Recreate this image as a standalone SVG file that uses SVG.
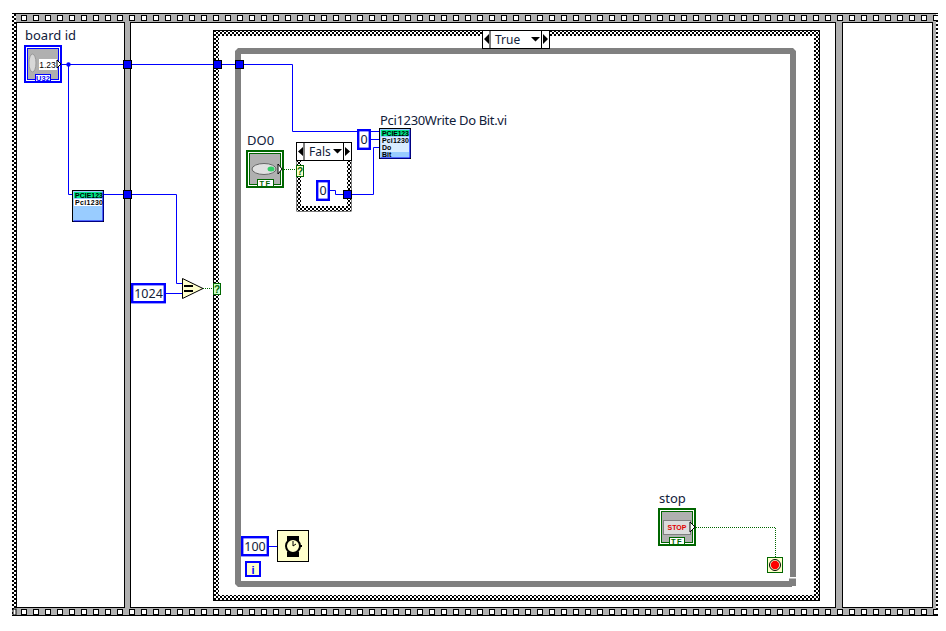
<svg xmlns="http://www.w3.org/2000/svg" width="946" height="631" viewBox="0 0 946 631">
<style>
text{font-family:"Noto Sans","Liberation Sans",sans-serif;fill:#10203a}
.lbl{font-size:13px}
.sel{font-size:12px}
.num{font-size:12.500px;text-anchor:middle}
.wire{fill:none;stroke:#0000ff;stroke-width:1}
.bool{fill:none;stroke:#006600;stroke-width:1;stroke-dasharray:1 1}
.tun{fill:#0000ff;stroke:#000;stroke-width:1}
.const{fill:#fff;stroke:#0000ff;stroke-width:2.400}
.grey{fill:#b0b0b0}
.loop{fill:#808080}
.hole{fill:#fff;stroke:#000;stroke-width:1}
.k{fill:#000}
.vit{font-family:"Liberation Sans",sans-serif;font-size:7px;font-weight:bold;fill:#000}
.tag{font-family:"Liberation Sans",sans-serif;font-size:7.500px;font-weight:bold;text-anchor:middle}
.q{font-family:"Liberation Sans",sans-serif;font-size:10px;font-weight:bold;text-anchor:middle;fill:#006600}
</style>
<defs>
<pattern id="chk" width="4" height="4" patternUnits="userSpaceOnUse">
<rect width="4" height="4" fill="#fff"/><rect width="2" height="2" fill="#000"/><rect x="2" y="2" width="2" height="2" fill="#000"/>
</pattern>
<pattern id="holesT" x="18" y="0" width="12" height="631" patternUnits="userSpaceOnUse">
<rect x="3.500" y="15.500" width="5" height="5" class="hole"/>
</pattern>
<pattern id="holesB" x="18" y="0" width="12" height="631" patternUnits="userSpaceOnUse">
<rect x="3.500" y="609.500" width="5" height="5" class="hole"/>
</pattern>
</defs>
<rect width="946" height="631" fill="#fff"/>

<g id="sequence-frame">
<rect x="12" y="13" width="926" height="603" fill="#000"/>
<rect x="13" y="14" width="925" height="601" class="grey"/>
<rect x="12" y="14" width="4" height="601" fill="url(#chk)"/>
<rect x="936" y="14" width="2" height="601" fill="url(#chk)"/>
<rect x="18" y="14" width="920" height="8" fill="url(#holesT)"/>
<rect x="18" y="608" width="920" height="8" fill="url(#holesB)"/>
<rect x="13" y="609" width="3" height="6" fill="#fff" stroke="#000"/>
<rect x="16.500" y="22.500" width="108" height="585" fill="#fff" stroke="#000"/>
<rect x="130.500" y="22.500" width="705" height="585" fill="#fff" stroke="#000"/>
<rect x="842.500" y="22.500" width="90" height="585" fill="#fff" stroke="#000"/>
</g>

<g id="case-frame">
<rect x="213" y="30" width="607" height="571" fill="#000"/>
<rect x="214" y="31" width="605" height="569" fill="url(#chk)"/>
<rect x="219" y="36" width="595" height="559" fill="#fff"/>
</g>

<g id="while-loop">
<path class="loop" d="M235 51L238 48H793L796 51V577H790V54H241V581H789V578.500H796V586H792V587H238L235 584Z"/>
</g>

<g id="inner-case">
<rect x="296.500" y="142.500" width="55" height="69" fill="#000"/>
<rect x="297" y="160" width="54" height="51" fill="url(#chk)"/>
<rect x="301" y="160" width="46" height="46" fill="#fff"/>
</g>

<g id="connectors">
<path class="wire" d="M62 64.500H292.500V131.500H380"/>
<path class="wire" d="M68.500 64.500V194.500H72"/>
<path class="wire" d="M104 194.500H176.500V283.500H182"/>
<path class="wire" d="M166 293.500H182"/>
<path class="wire" d="M371 139.500H380"/>
<path class="wire" d="M380 147.500H373.500V194.500H348"/>
<path class="wire" d="M330 190.500H335.500V194.500H344"/>
<path class="wire" d="M269 546.500H277"/>
<path class="bool" d="M203 288.500H213"/>
<path class="bool" d="M280 169.500H296"/>
<path class="bool" d="M696 527.500H775.500V557"/>
<circle cx="68.500" cy="64.500" r="2.200" fill="#0000ff"/>
</g>

<g id="tunnels">
<rect class="tun" x="123.500" y="60.500" width="8" height="8"/>
<rect class="tun" x="213.500" y="60.500" width="8" height="8"/>
<rect class="tun" x="235.500" y="60.500" width="8" height="8"/>
<rect class="tun" x="123.500" y="190.500" width="8" height="8"/>
<rect class="tun" x="343.500" y="190.500" width="8" height="8"/>
</g>

<g id="case-selector-true">
<rect x="482.500" y="30.500" width="67" height="18" fill="#fff" stroke="#000"/>
<path class="k" d="M490.500 30V48H489.500V30ZM542 30V48H541V30ZM489 34V44L484 39ZM543 34V44L548 39ZM531 37H540L535.500 41.500Z"/>
<text class="sel" x="495" y="44">True</text>
</g>

<g id="board-id">
<text class="lbl" x="25" y="40">board id</text>
<rect x="25" y="46" width="36" height="36" fill="#fff" stroke="#0000ff" stroke-width="2"/>
<rect x="27.500" y="48.500" width="31" height="31" fill="#b0b0b0" stroke="#0000ff"/>
<ellipse cx="32.500" cy="63" rx="3.500" ry="9" fill="#d8d8d8" stroke="#999"/>
<rect x="39" y="59" width="18" height="11" fill="#fff"/>
<text x="47.500" y="67.500" font-size="8.500" text-anchor="middle" style="font-family:'Liberation Sans',sans-serif;fill:#000">1.23</text>
<path d="M57 60L61 64L57 68Z" fill="#fff" stroke="#000"/>
<rect x="35.500" y="74.500" width="15" height="7" fill="#fff" stroke="#0000ff"/>
<text class="tag" x="43" y="81" style="fill:#0000ff">U32</text>
</g>

<g id="board-vi">
<rect x="72.500" y="190.500" width="31" height="31" fill="#99ccff" stroke="#000"/>
<path d="M103 191.500V221H73.500" fill="none" stroke="#0000ff"/>
<rect x="74" y="192" width="28" height="6" fill="#00e68a"/>
<rect x="74" y="199" width="28" height="7" fill="#fff"/>
<text class="vit" x="75" y="198" textLength="28">PCIE123</text>
<text class="vit" x="75" y="205" textLength="28">Pci1230</text>
</g>

<g id="const-1024">
<rect class="const" x="132.200" y="284.200" width="32.600" height="18"/>
<text class="num" x="148.500" y="298">1024</text>
</g>

<g id="equal">
<path d="M182.500 278.500L203 288.500L182.500 298.500Z" fill="#ffffcc" stroke="#000"/>
<path class="k" d="M184 285H193V287H184ZM184 290H193V292H184Z"/>
</g>

<g id="selector-1">
<rect x="213.500" y="283.500" width="7" height="11" fill="#ccffcc" stroke="#006600"/>
<text class="q" x="217" y="293">?</text>
</g>

<g id="do0">
<text class="lbl" x="247" y="145">DO0</text>
<rect x="247" y="151" width="36" height="36" fill="#fff" stroke="#006600" stroke-width="2"/>
<rect x="249.500" y="153.500" width="31" height="31" fill="#b0b0b0" stroke="#006600"/>
<ellipse cx="264" cy="169" rx="12" ry="5.500" fill="#e0e0e0" stroke="#666"/>
<ellipse cx="271" cy="169" rx="3.500" ry="2.500" fill="#33cc66"/>
<path d="M278 164L282 169L278 174Z" fill="#fff" stroke="#000"/>
<rect x="257.500" y="179.500" width="16" height="7" fill="#fff" stroke="#006600"/>
<text class="tag" x="265.500" y="186" letter-spacing="1.500" style="fill:#006600">TF</text>
</g>

<g id="case-selector-false">
<rect x="296.500" y="142.500" width="55" height="18" fill="#fff" stroke="#000"/>
<path class="k" d="M304.500 142V160H303.500V142ZM344 142V160H343V142ZM303 147V156L298 151.500ZM345 147V156L350 151.500ZM333 149H342L337.500 153.500Z"/>
<text class="sel" x="309" y="156">Fals</text>
<rect x="296.500" y="165.500" width="7" height="11" fill="#ffffcc" stroke="#006600"/>
<text class="q" x="300" y="175">?</text>
</g>

<g id="const-false">
<rect class="const" x="317.200" y="181.200" width="11.600" height="18.600"/>
<text class="num" x="323" y="195">0</text>
</g>

<g id="const-0">
<rect class="const" x="358.200" y="130.200" width="11.600" height="18.600"/>
<text class="num" x="364" y="144">0</text>
</g>

<g id="write-vi">
<text class="lbl" x="380" y="125" textLength="127">Pci1230Write Do Bit.vi</text>
<rect x="379.500" y="128.500" width="31" height="30" fill="#99ccff" stroke="#000"/>
<path d="M410 129.500V158H380.500" fill="none" stroke="#0000ff"/>
<rect x="381" y="130" width="28" height="6" fill="#00e68a"/>
<rect x="381" y="137" width="28" height="15" fill="#d8ecff"/>
<text class="vit" x="382" y="136" textLength="27">PCIE123</text>
<text class="vit" x="382" y="143" textLength="27">Pci1230</text>
<text class="vit" x="382" y="150">Do</text>
<text class="vit" x="382" y="156.500">Bit</text>
</g>

<g id="stop-control">
<text class="lbl" x="659" y="503">stop</text>
<rect x="659" y="509" width="36" height="36" fill="#fff" stroke="#006600" stroke-width="2"/>
<rect x="661.500" y="511.500" width="31" height="31" fill="#b0b0b0" stroke="#006600"/>
<rect x="663.500" y="520.500" width="27" height="14" fill="#dcdcdc" stroke="#808080"/>
<text x="677" y="530" font-size="7" font-weight="bold" text-anchor="middle" style="font-family:'Liberation Sans',sans-serif;fill:#e00000">STOP</text>
<path d="M690 522L695 527L690 532Z" fill="#fff" stroke="#000"/>
<rect x="669.500" y="537.500" width="15" height="7" fill="#fff" stroke="#006600"/>
<text class="tag" x="677" y="544" letter-spacing="1.500" style="fill:#006600">TF</text>
</g>

<g id="stop-terminal">
<rect x="767.500" y="557.500" width="15" height="15" fill="#ffffcc" stroke="#006600"/>
<circle cx="775" cy="565" r="5.500" fill="#ffffcc" stroke="#000"/>
<circle cx="775" cy="565" r="4.200" fill="#ff0000"/>
</g>

<g id="const-100">
<rect class="const" x="242.200" y="537.200" width="25.600" height="18"/>
<text class="num" x="255" y="551">100</text>
</g>

<g id="wait">
<rect x="277.500" y="530.500" width="31" height="31" fill="#ffffcc" stroke="#000"/>
<path class="k" d="M287 536H299V541H287ZM287 552H299V557H287Z"/>
<circle cx="293" cy="546" r="7" fill="#ffffcc" stroke="#000" stroke-width="2"/>
<path d="M293 546V541M293 546L296 544" stroke="#000" fill="none"/>
<rect x="300" y="545" width="2" height="2" class="k"/>
</g>

<g id="iteration">
<rect x="246" y="562" width="14" height="14" fill="#ffffcc" stroke="#0000ff" stroke-width="2"/>
<text x="253" y="574" font-size="11" font-weight="bold" text-anchor="middle" style="font-family:'Liberation Sans',sans-serif;fill:#0000ff">i</text>
</g>
</svg>
